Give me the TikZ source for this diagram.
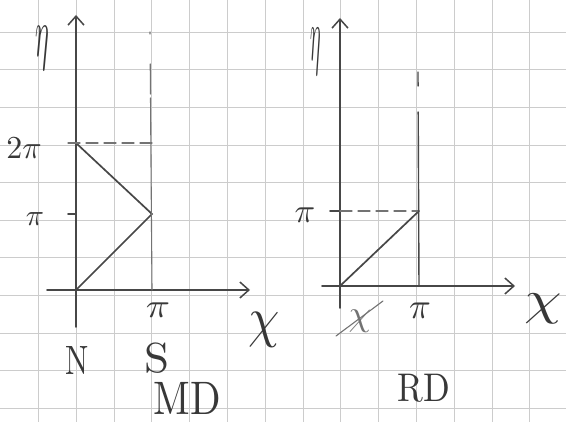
\documentclass[tikz,border=0pt]{standalone}
\usetikzlibrary{arrows.meta}
\begin{document}
\begin{tikzpicture}[x=1pt,y=-1pt,
  pencil/.style={draw=black!72, line width=1.7pt, line cap=round},
  faint/.style={draw=black!55, line width=1.1pt, line cap=round},
  axisarrow/.style={pencil, -{Straight Barb[length=9pt,width=16pt,line width=1.5pt]}},
  lbl/.style={text=black!78, inner sep=0pt, font=\fontsize{10}{12}\selectfont},
  gridline/.style={draw=black!20, line width=0.7pt}]
\useasboundingbox (0,0) rectangle (566,422);
\fill[white] (0,0) rectangle (566,422);
\foreach \k in {1,...,14} \draw[gridline] ({0.5+37.8*\k},0) -- ({0.5+37.8*\k},422);
\foreach \k in {1,...,11} \draw[gridline] (0,{-5.5+37.6*\k}) -- (566,{-5.5+37.6*\k});

% ---------- left diagram (MD) ----------
\coordinate (LO) at (76,290);
\coordinate (Ltop) at (76,15);
\coordinate (Lbot) at (76,327);
\coordinate (Lleft) at (47,290);
\coordinate (Lright) at (250,290);
\coordinate (L2pi) at (76,143);
\coordinate (L2pitick) at (68,143);
\coordinate (Lpi) at (76,214);
\coordinate (Lpitick) at (68,214);
\coordinate (Lpeak) at (152,214);
\coordinate (Lcorner) at (152,143);
\coordinate (Lxpi) at (152,290);
\coordinate (Lvtop) at (150,32);

\draw[pencil] (Lbot) -- (LO);
\draw[axisarrow] (LO) -- (Ltop);
\draw[axisarrow] (Lleft) -- (Lright);
\draw[pencil] (Lpitick) -- (Lpi);
\draw[pencil] (LO) -- (Lpeak) -- (L2pi);
\draw[faint, dash pattern=on 12pt off 6pt] (L2pitick) -- (Lcorner);
\draw[faint, dash pattern=on 2pt off 30pt on 30pt off 4pt on 200pt] (Lvtop) -- (Lxpi);

\node[lbl] (Leta) at (42,48) {\scalebox{2.6}[7]{$\eta$}};
\node[lbl] (L2pilbl) at (24,148) {\scalebox{3.2}{$2\pi$}};
\node[lbl] (Lpilbl) at (35,219) {\scalebox{3}{$\pi$}};
\node[lbl] (Lxpilbl) at (158,310) {\scalebox{4}[3.4]{$\pi$}};
\node[lbl] (Lchi) at (264,330) {\scalebox{5}[5.6]{$\chi$}};
\node[lbl] (N) at (77,360) {\scalebox{3.1}[4.1]{N}};
\node[lbl] (S) at (157,358) {\scalebox{4.5}[4.2]{S}};
\node[lbl] (MD) at (187,398) {\scalebox{4}[4.7]{MD}};

% ---------- right diagram (RD) ----------
\coordinate (RO) at (340,286);
\coordinate (Rtop) at (340,18);
\coordinate (Rbot) at (340,308);
\coordinate (Rleft) at (322,286);
\coordinate (Rright) at (515,286);
\coordinate (Rpi) at (340,211);
\coordinate (Rpitick) at (330,211);
\coordinate (Rcorner) at (419,211);
\coordinate (Rxpi) at (419,286);
\coordinate (Rvtop) at (418,72);
\coordinate (Rs1) at (336,336);
\coordinate (Rs2) at (383,301);

\draw[pencil] (Rbot) -- (RO);
\draw[axisarrow] (RO) -- (Rtop);
\draw[axisarrow] (Rleft) -- (Rright);
\draw[pencil] (Rpitick) -- (Rpi);
\draw[pencil] (RO) -- (Rcorner);
\draw[faint, dash pattern=on 12pt off 6pt] (Rpi) -- (Rcorner);
\draw[pencil, line width=1.4pt, dash pattern=on 14pt off 26pt on 220pt] (Rvtop) -- (Rxpi);

\node[lbl] (Reta) at (316,52) {\scalebox{2}[7.5]{$\eta$}};
\node[lbl] (Rpilbl) at (305,215) {\scalebox{3.4}{$\pi$}};
\node[lbl] (Rxpilbl) at (420,311) {\scalebox{3.6}[3.6]{$\pi$}};
\node[lbl] (Rchi) at (543,309) {\scalebox{6}[4.8]{$\chi$}};
\node[lbl, text=black!55] (Rchix) at (360,321) {\scalebox{3.6}{$\chi$}};
\draw[faint] (Rs1) -- (Rs2);
\node[lbl] (RD) at (424,388) {\scalebox{3.5}[4]{RD}};
\end{tikzpicture}
\end{document}
